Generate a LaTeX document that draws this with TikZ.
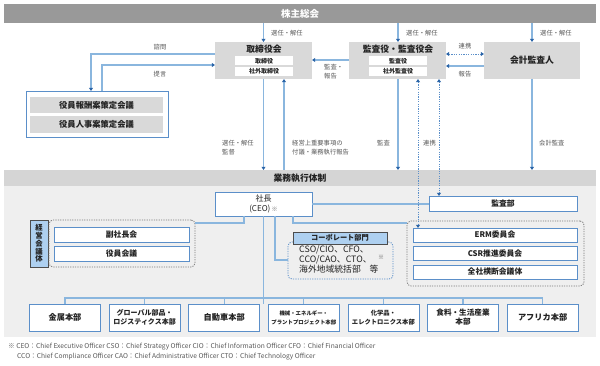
\documentclass[tikz,border=0pt]{standalone}
\usepackage{fontspec}
\setmainfont{Noto Sans CJK JP}
\usetikzlibrary{arrows.meta}
\definecolor{topgray}{HTML}{999999}
\definecolor{boxgray}{HTML}{D9D9D9}
\definecolor{bargray}{HTML}{D5D5D5}
\definecolor{bggray}{HTML}{EFEFEF}
\definecolor{bdblue}{HTML}{5B8FC9}
\definecolor{lnblue}{HTML}{8AB6DE}
\definecolor{arblue}{HTML}{2B65A8}
\definecolor{lblgray}{HTML}{595959}
\definecolor{dotgray}{HTML}{7A7A7A}
\definecolor{lbfill}{HTML}{AED0F0}
\definecolor{dkborder}{HTML}{4D4D4D}
\definecolor{txt}{HTML}{222222}
\tikzset{
  lbl/.style={font=\fontsize{6.3}{9.2}\selectfont, text=lblgray, inner sep=0pt, anchor=west, align=left},
  gbox/.style={fill=boxgray, draw=none, inner sep=0pt, outer sep=0pt, anchor=north west},
  wbox/.style={fill=white, draw=bdblue, line width=0.8pt, inner sep=0pt, outer sep=0pt, anchor=north west, text=txt, align=center},
  ibox/.style={fill=white, draw=none, inner sep=0pt, outer sep=0pt, anchor=north west, text=txt, font=\fontsize{6}{7}\selectfont\bfseries},
  ttl/.style={inner sep=0pt, text=txt, font=\fontsize{8.8}{10}\selectfont\bfseries},
  ln/.style={draw=lnblue, line width=1.1pt},
  arr/.style={ln, -{Triangle[length=3.2pt,width=4pt,color=arblue]}},
  darr/.style={draw=bdblue, line width=0.8pt, dash pattern=on 1.2pt off 1.2pt, {Triangle[length=3.2pt,width=4pt,color=arblue]}-{Triangle[length=3.2pt,width=4pt,color=arblue]}},
  grp/.style={draw=dotgray, line width=0.8pt, dash pattern=on 1.2pt off 1.2pt, rounded corners=4pt, inner sep=0pt, outer sep=0pt, anchor=north west},
  divbox/.style={wbox, anchor=center, minimum width=71pt, minimum height=27pt},
  fnote/.style={inner sep=0pt, anchor=west, text=lblgray, font=\fontsize{6.65}{7}\selectfont},
}
\begin{document}
\begin{tikzpicture}[x=1pt,y=-1pt]
\useasboundingbox[fill=white] (0,0) rectangle (600,366);

% ---------- top bar
\node[fill=topgray, inner sep=0pt, minimum width=592pt, minimum height=19pt, anchor=north west, text=white, font=\fontsize{9.5}{11}\selectfont\bfseries] (agm) at (4,4) {株主総会};

% ---------- board
\node[gbox, minimum width=97pt, minimum height=37pt] (board) at (215,42) {};
\node[ttl] (boardt) at (264,49.5) {取締役会};
\node[ibox, minimum width=58pt, minimum height=8.5pt] (bd1) at (235,56.5) {取締役};
\node[ibox, minimum width=58pt, minimum height=9pt] (bd2) at (235,67) {社外取締役};

% ---------- audit board
\node[gbox, minimum width=97pt, minimum height=37pt] (aud) at (349,42) {};
\node[ttl] (audt) at (398,49.5) {監査役・監査役会};
\node[ibox, minimum width=58pt, minimum height=8.5pt] (ad1) at (369,56.5) {監査役};
\node[ibox, minimum width=58pt, minimum height=9pt] (ad2) at (369,67) {社外監査役};

% ---------- accounting auditor
\node[gbox, minimum width=96pt, minimum height=37pt, text=txt, font=\fontsize{8.8}{10}\selectfont\bfseries] (acc) at (484,42) {会計監査人};

% ---------- committees
\node[wbox, minimum width=142pt, minimum height=46pt] (comm) at (26,91) {};
\node[gbox, minimum width=133pt, minimum height=16pt, text=txt, font=\fontsize{8.3}{10}\selectfont\bfseries] (c1) at (30,97) {役員報酬案策定会議};
\node[gbox, minimum width=133pt, minimum height=17pt, text=txt, font=\fontsize{8.3}{10}\selectfont\bfseries] (c2) at (30,116) {役員人事案策定会議};

% coordinates for vertical lines
\coordinate (x91) at (91,0);
\coordinate (x102) at (102,0);
\coordinate (x263) at (263.5,0);
\coordinate (x284) at (284,0);
\coordinate (x398) at (398,0);
\coordinate (x418) at (418,0);
\coordinate (x439) at (439,0);
\coordinate (x532) at (532,0);
\coordinate (y54) at (0,54);
\coordinate (y65) at (0,65);
\coordinate (y60) at (0,60);
\coordinate (y66) at (0,66);

% ---------- top arrows
\draw[arr] (agm.south -| x263) -- (board.north -| x263);
\draw[arr] (agm.south -| x398) -- (aud.north -| x398);
\draw[arr] (agm.south -| x532) -- (acc.north -| x532);
\node[lbl] (l1) at (271,33) {選任・解任};
\node[lbl] (l2) at (406,33) {選任・解任};
\node[lbl] (l3) at (540,33) {選任・解任};

% consult / propose
\draw[arr] (board.west |- y54) -| (comm.north -| x91);
\draw[arr] (comm.north -| x102) |- (board.west |- y65);
\node[lbl, anchor=center] (l4) at (160,47) {諮問};
\node[lbl, anchor=center] (l5) at (160,74) {提言};

% audit -> board
\draw[arr] (aud.west |- y60) -- (board.east |- y60);
\node[lbl] (l6) at (324,72) {監査・\\報告};

% audit <-> accounting
\draw[darr] (aud.east |- y54) -- (acc.west |- y54);
\draw[arr] (acc.west |- y66) -- (aud.east |- y66);
\node[lbl, anchor=center] (l7) at (465,46) {連携};
\node[lbl, anchor=center] (l8) at (465,74) {報告};

% ---------- execution bar and background
\node[fill=bggray, inner sep=0pt, minimum width=592pt, minimum height=151pt, anchor=north west] (bg) at (4,186) {};
\node[fill=bargray, inner sep=0pt, minimum width=592pt, minimum height=16pt, anchor=north west] (bar) at (4,170) {};
\node[ttl] (bart) at (300,178) {業務執行体制};

% vertical links
\draw[arr] (board.south -| x263) -- (bar.north -| x263);
\draw[arr] (bar.north -| x284) -- (board.south -| x284);
\draw[arr] (aud.south -| x398) -- (bar.north -| x398);
\draw[arr] (acc.south -| x532) -- (bar.north -| x532);
\node[lbl] (l9) at (222,147.5) {選任・解任\\監督};
\node[lbl] (l10) at (292,147.5) {経営上重要事項の\\付議・業務執行報告};
\node[lbl] (l11) at (377,143) {監査};
\node[lbl] (l12) at (423,143) {連携};
\node[lbl] (l13) at (539,143) {会計監査};

% ---------- CEO
\node[wbox, minimum width=97pt, minimum height=24pt, font=\fontsize{8}{9.8}\selectfont] (ceo) at (215,192) {社長\\(CEO)\,{\color{lblgray}\fontsize{6}{7}\selectfont ※}};
\node[wbox, minimum width=148pt, minimum height=15pt, font=\fontsize{7.8}{9}\selectfont\bfseries] (iad) at (429,196) {監査部};
\draw[ln] (ceo.east) -- (iad.west |- ceo.east);

% management bodies
\node[fill=lbfill, draw=dkborder, line width=0.8pt, inner sep=0pt, outer sep=0pt, minimum width=18pt, minimum height=47pt, anchor=north west, align=center, text=txt, font=\fontsize{7.4}{7.7}\selectfont\bfseries] (mgmt) at (30,220) {経\\営\\会\\議\\体};
\node[grp, minimum width=146pt, minimum height=47pt] (g1) at (49,220) {};
\node[wbox, minimum width=135pt, minimum height=15pt, font=\fontsize{7.8}{9}\selectfont\bfseries] (vp) at (54,227) {副社長会};
\node[wbox, minimum width=135pt, minimum height=15pt, font=\fontsize{7.8}{9}\selectfont\bfseries] (om) at (54,246) {役員会議};

% corporate
\node[draw=bdblue, line width=0.8pt, dash pattern=on 1.2pt off 1.2pt, rounded corners=4pt, inner sep=0pt, outer sep=0pt, minimum width=105pt, minimum height=37pt, anchor=north west] (corp) at (288,242) {};
\node[fill=lbfill, draw=dkborder, line width=0.8pt, inner sep=0pt, outer sep=0pt, minimum width=94pt, minimum height=12pt, anchor=north west, text=txt, font=\fontsize{7.2}{8}\selectfont\bfseries] (corph) at (293,232) {コーポレート部門};
\node[inner sep=0pt, anchor=north west, align=left, text=txt, font=\fontsize{8.8}{10}\selectfont] (corpt) at (299,245.5) {CSO/CIO、CFO、\\CCO/CAO、CTO、\\海外地域統括部\quad 等};
\node[inner sep=0pt, text=lblgray, font=\fontsize{6}{7}\selectfont] (corpm) at (381,257) {※};

% committees group
\node[grp, minimum width=177pt, minimum height=65pt] (g2) at (407,221) {};
\node[wbox, minimum width=164pt, minimum height=14pt, font=\fontsize{7.8}{9}\selectfont\bfseries] (erm) at (413,228) {ERM委員会};
\node[wbox, minimum width=164pt, minimum height=14pt, font=\fontsize{7.8}{9}\selectfont\bfseries] (csr) at (413,246.5) {CSR推進委員会};
\node[wbox, minimum width=164pt, minimum height=14pt, font=\fontsize{7.8}{9}\selectfont\bfseries] (cross) at (413,265) {全社横断会議体};

% dotted links from audit board
\draw[darr] (aud.south -| x418) -- (erm.north -| x418);
\draw[darr] (aud.south -| x439) -- (iad.north -| x439);

% CEO links
\coordinate (x244) at (244,0);
\coordinate (x275) at (275,0);
\coordinate (x293) at (293,0);
\coordinate (y223) at (0,223);
\coordinate (y260) at (0,260);
\draw[ln] (ceo.south -| x244) |- (g1.east |- y223);
\draw[ln] (ceo.south -| x275) |- (corp.west |- y260);
\draw[ln] (ceo.south -| x293) |- (g2.west |- y223);

% divisions
\node[divbox, font=\fontsize{8.2}{10}\selectfont\bfseries] (d1) at (65,317.5) {金属本部};
\node[divbox, font=\fontsize{7}{9}\selectfont\bfseries] (d2) at (144.6,317.5) {グローバル部品・\\ロジスティクス本部};
\node[divbox, font=\fontsize{8.2}{10}\selectfont\bfseries] (d3) at (224.2,317.5) {自動車本部};
\node[divbox, font=\fontsize{5.4}{9}\selectfont\bfseries] (d4) at (303.8,317.5) {機械・エネルギー・\\プラントプロジェクト本部};
\node[divbox, font=\fontsize{6.3}{9}\selectfont\bfseries] (d5) at (383.4,317.5) {化学品・\\エレクトロニクス本部};
\node[divbox, font=\fontsize{7.6}{9}\selectfont\bfseries] (d6) at (463,317.5) {食料・生活産業\\本部};
\node[divbox, font=\fontsize{8.2}{10}\selectfont\bfseries] (d7) at (542.6,317.5) {アフリカ本部};

\coordinate (bus) at (0,298);
\draw[ln] (d1.north) |- (d7.north |- bus) -- (d7.north);
\foreach \d in {d2,d3,d4,d5,d6} \draw[ln] (\d.north) -- (\d.north |- bus);
\draw[ln] (ceo.south -| x263) -- (d4.north -| x263 |- bus);

% footnote
\node[fnote] (fn1) at (8,347) {※ CEO：Chief Executive Officer CSO：Chief Strategy Officer CIO：Chief Information Officer CFO：Chief Financial Officer};
\node[fnote] (fn2) at (17,357) {CCO：Chief Compliance Officer CAO：Chief Administrative Officer CTO：Chief Technology Officer};
\end{tikzpicture}
\end{document}
